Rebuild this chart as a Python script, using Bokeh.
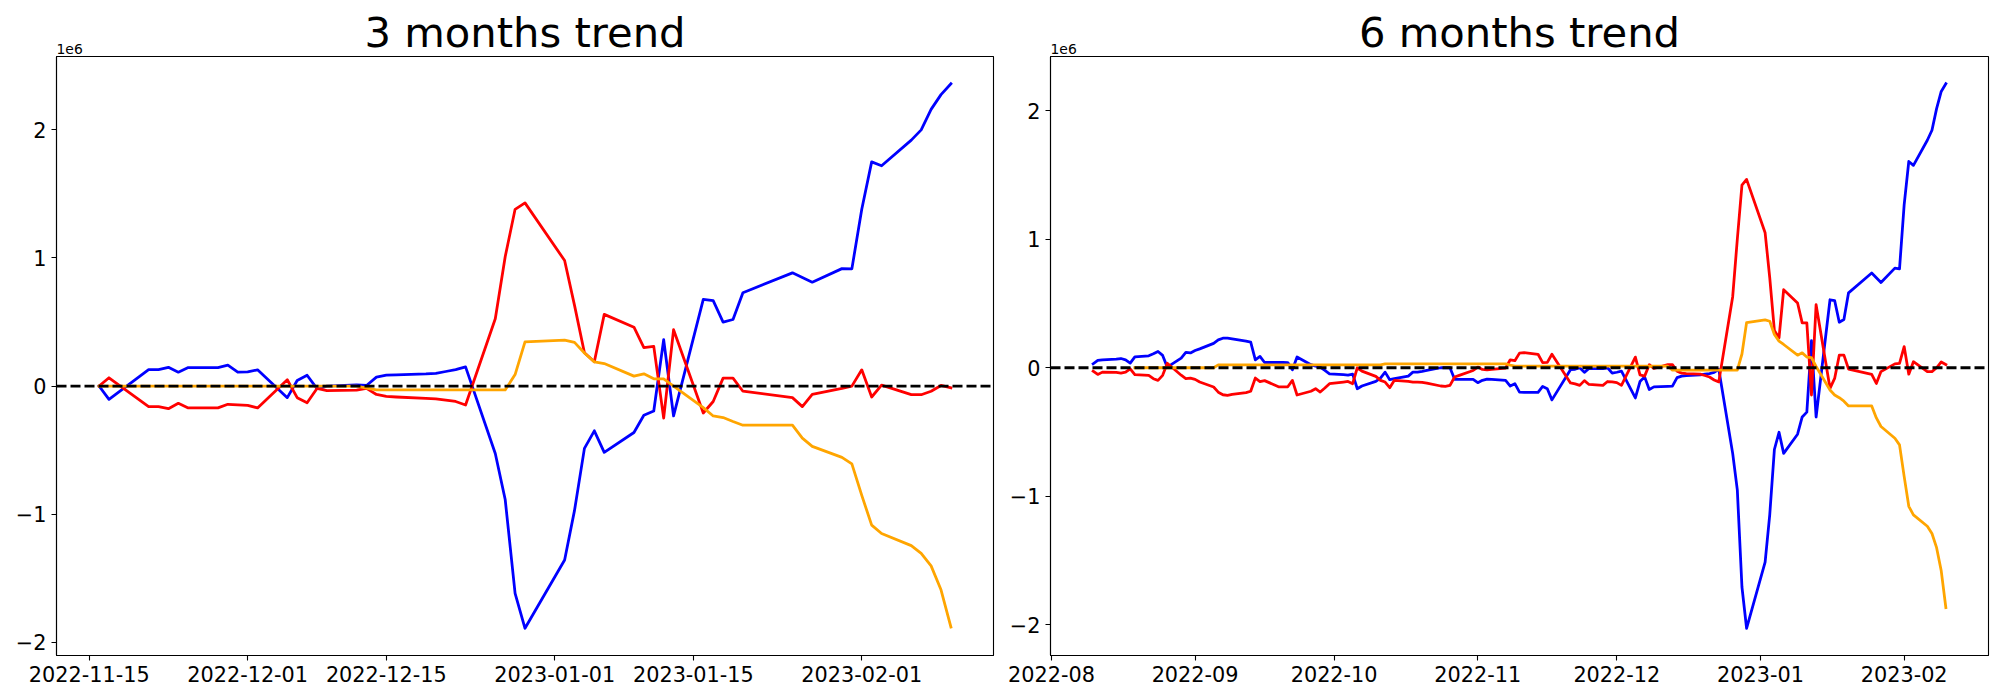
import numpy as np
import pandas as pd
from bokeh.plotting import figure
from bokeh.layouts import row
from bokeh.models import (ColumnDataSource, Range1d, FixedTicker,
                          CustomJSTickFormatter, Span, Title)
from bokeh.embed import file_html
from bokeh.resources import INLINE

# ---------------- 3 months trend (values in units of 1e6) ----------------
dates_3m = [
    "2022-11-16", "2022-11-17", "2022-11-21", "2022-11-22", "2022-11-23", "2022-11-24", "2022-11-25",
    "2022-11-28", "2022-11-29", "2022-11-30",
    "2022-12-01", "2022-12-02", "2022-12-05", "2022-12-06", "2022-12-07", "2022-12-08", "2022-12-09",
    "2022-12-12", "2022-12-13", "2022-12-14", "2022-12-15", "2022-12-16", "2022-12-19", "2022-12-20",
    "2022-12-21", "2022-12-22", "2022-12-23", "2022-12-26", "2022-12-27", "2022-12-28", "2022-12-29",
    "2023-01-02", "2023-01-03", "2023-01-04", "2023-01-05", "2023-01-06", "2023-01-09", "2023-01-10",
    "2023-01-11", "2023-01-12", "2023-01-13", "2023-01-16", "2023-01-17", "2023-01-18", "2023-01-19",
    "2023-01-20", "2023-01-25", "2023-01-26", "2023-01-27", "2023-01-30", "2023-01-31",
    "2023-02-01", "2023-02-02", "2023-02-03", "2023-02-06", "2023-02-07", "2023-02-08", "2023-02-09",
    "2023-02-10",
]
blue_3m = [
    0.000, -0.103, 0.129, 0.129, 0.147, 0.109, 0.145, 0.145, 0.163, 0.109,
    0.111, 0.127, -0.090, 0.044, 0.085, -0.020, 0.000, 0.010, 0.005, 0.070, 0.085, 0.087, 0.095, 0.100,
    0.114, 0.129, 0.150, -0.526, -0.885, -1.617, -1.890,
    -1.357, -0.970, -0.486, -0.349, -0.517, -0.362, -0.227, -0.194, 0.362, -0.233, 0.677, 0.667, 0.500,
    0.520, 0.729, 0.884, 0.848, 0.811, 0.917, 0.915,
    1.380, 1.750, 1.720, 1.920, 2.000, 2.160, 2.275, 2.360,
]
red_3m = [
    0.000, 0.065, -0.160, -0.160, -0.176, -0.134, -0.170, -0.170, -0.142, -0.146,
    -0.150, -0.170, 0.050, -0.090, -0.130, -0.018, -0.036, -0.031, -0.018, -0.065, -0.080, -0.085, -0.096,
    -0.100, -0.110, -0.120, -0.147, 0.526, 1.010, 1.380, 1.430,
    0.980, 0.630, 0.260, 0.190, 0.560, 0.460, 0.300, 0.310, -0.250, 0.440, -0.210, -0.120, 0.062,
    0.062, -0.040, -0.090, -0.160, -0.065, -0.018, 0.000,
    0.127, -0.085, 0.008, -0.067, -0.067, -0.040, 0.005, -0.013,
]
orange_3m = [
    0.000, 0.000, 0.000, 0.000, 0.000, 0.000, 0.000, 0.000, 0.000, 0.000,
    0.000, 0.000, 0.000, 0.000, 0.000, 0.000, 0.000, 0.000, -0.015, -0.030, -0.030, -0.030, -0.030,
    -0.030, -0.030, -0.030, -0.030, -0.030, -0.030, 0.090, 0.345,
    0.359, 0.341, 0.258, 0.189, 0.176, 0.078, 0.096, 0.057, 0.057, 0.000, -0.168, -0.233, -0.245,
    -0.276, -0.305, -0.305, -0.406, -0.470, -0.556, -0.607,
    -0.853, -1.085, -1.150, -1.245, -1.305, -1.403, -1.590, -1.880,
]
ticks_3m = ["2022-11-15", "2022-12-01", "2022-12-15", "2023-01-01", "2023-01-15", "2023-02-01"]

# ---------------- 6 months trend (values in units of 1e6) ----------------
dates_6m = [
    # Aug
    "2022-08-10", "2022-08-11", "2022-08-12", "2022-08-15", "2022-08-16", "2022-08-17", "2022-08-18",
    "2022-08-19", "2022-08-22", "2022-08-23", "2022-08-24", "2022-08-25", "2022-08-26", "2022-08-29",
    "2022-08-30", "2022-08-31",
    # Sep
    "2022-09-01", "2022-09-02", "2022-09-05", "2022-09-06", "2022-09-07", "2022-09-08", "2022-09-09",
    "2022-09-12", "2022-09-13", "2022-09-14", "2022-09-15", "2022-09-16", "2022-09-19", "2022-09-20",
    "2022-09-21", "2022-09-22", "2022-09-23", "2022-09-26", "2022-09-27", "2022-09-28", "2022-09-29",
    "2022-09-30",
    # Oct
    "2022-10-03", "2022-10-04", "2022-10-05", "2022-10-06", "2022-10-07", "2022-10-10", "2022-10-11",
    "2022-10-12", "2022-10-13", "2022-10-14", "2022-10-17", "2022-10-18", "2022-10-19", "2022-10-20",
    "2022-10-21", "2022-10-24", "2022-10-25", "2022-10-26", "2022-10-27", "2022-10-28", "2022-10-31",
    # Nov
    "2022-11-01", "2022-11-02", "2022-11-03", "2022-11-04", "2022-11-07", "2022-11-08", "2022-11-09",
    "2022-11-10", "2022-11-11", "2022-11-14", "2022-11-15", "2022-11-16", "2022-11-17", "2022-11-21",
    "2022-11-22", "2022-11-23", "2022-11-24", "2022-11-25", "2022-11-28", "2022-11-29", "2022-11-30",
    # Dec
    "2022-12-01", "2022-12-02", "2022-12-05", "2022-12-06", "2022-12-07", "2022-12-08", "2022-12-09",
    "2022-12-12", "2022-12-13", "2022-12-14", "2022-12-15", "2022-12-16", "2022-12-19", "2022-12-20",
    "2022-12-21", "2022-12-22", "2022-12-23", "2022-12-26", "2022-12-27", "2022-12-28", "2022-12-29",
    # Jan
    "2023-01-02", "2023-01-03", "2023-01-04", "2023-01-05", "2023-01-06", "2023-01-09", "2023-01-10",
    "2023-01-11", "2023-01-12", "2023-01-13", "2023-01-16", "2023-01-17", "2023-01-18", "2023-01-19",
    "2023-01-20", "2023-01-25", "2023-01-26", "2023-01-27", "2023-01-30", "2023-01-31",
    # Feb
    "2023-02-01", "2023-02-02", "2023-02-03", "2023-02-06", "2023-02-07", "2023-02-08", "2023-02-09",
    "2023-02-10",
]
blue_6m = [
    0.031, 0.057, 0.062, 0.067, 0.072, 0.062, 0.036, 0.085, 0.093, 0.109, 0.127, 0.096, 0.005, 0.075,
    0.120, 0.115,
    0.134, 0.147, 0.190, 0.217, 0.230, 0.230, 0.225, 0.207, 0.199, 0.062, 0.088, 0.041, 0.041, 0.041,
    0.040, -0.016, 0.084, 0.024, 0.013, 0.005, -0.020, -0.047,
    -0.054, -0.057, -0.050, -0.163, -0.142, -0.106, -0.080, -0.034, -0.093, -0.085, -0.065, -0.034,
    -0.034, -0.028, -0.021, 0.000, 0.000, 0.000, -0.090, -0.090, -0.090,
    -0.116, -0.098, -0.088, -0.090, -0.098, -0.142, -0.124, -0.189, -0.191, -0.191, -0.145, -0.163,
    -0.250, -0.015, -0.012, 0.000, -0.036, -0.006, -0.006, 0.000, -0.042,
    -0.035, -0.027, -0.235, -0.107, -0.071, -0.169, -0.149, -0.145, -0.143, -0.077, -0.065, -0.062,
    -0.056, -0.050, -0.045, -0.036, -0.012, -0.666, -0.950, -1.706, -2.027,
    -1.513, -1.142, -0.636, -0.502, -0.666, -0.517, -0.383, -0.345, 0.211, -0.383, 0.529, 0.523,
    0.354, 0.375, 0.583, 0.737, 0.700, 0.663, 0.775, 0.770,
    1.267, 1.605, 1.575, 1.770, 1.848, 2.016, 2.150, 2.210,
]
red_6m = [
    -0.026, -0.052, -0.034, -0.036, -0.041, -0.034, -0.008, -0.054, -0.059, -0.085, -0.098, -0.059,
    0.035, -0.058, -0.085, -0.080,
    -0.090, -0.111, -0.150, -0.190, -0.210, -0.214, -0.207, -0.194, -0.183, -0.080, -0.108, -0.100,
    -0.148, -0.148, -0.148, -0.098, -0.212, -0.183, -0.163, -0.189, -0.158, -0.124,
    -0.111, -0.106, -0.124, 0.000, -0.026, -0.067, -0.098, -0.111, -0.155, -0.098, -0.106, -0.111,
    -0.111, -0.113, -0.119, -0.142, -0.145, -0.137, -0.072, -0.059, -0.021,
    0.005, -0.013, -0.016, -0.013, -0.003, 0.062, 0.055, 0.114, 0.118, 0.105, 0.040, 0.042,
    0.105, -0.118, -0.125, -0.137, -0.100, -0.130, -0.137, -0.107, -0.110,
    -0.116, -0.137, 0.083, -0.056, -0.065, 0.024, -0.006, 0.024, 0.024, -0.027, -0.042, -0.045,
    -0.050, -0.060, -0.072, -0.095, -0.110, 0.553, 1.000, 1.421, 1.466,
    1.050, 0.700, 0.290, 0.233, 0.607, 0.504, 0.349, 0.349, -0.212, 0.491, -0.160, -0.083,
    0.098, 0.098, -0.010, -0.052, -0.122, -0.030, 0.030, 0.034,
    0.165, -0.050, 0.047, -0.030, -0.030, 0.000, 0.045, 0.025,
]
nan = float("nan")
orange_6m = [
    nan, nan, nan, nan, nan, nan, nan, 0.000, 0.000, 0.000, 0.000, 0.000, 0.000, 0.000,
    0.000, 0.000,
    0.000, 0.000, 0.000, 0.023, 0.023, 0.023, 0.023, 0.023, 0.023, 0.023, 0.023, 0.023, 0.023, 0.023,
    0.023, 0.023, 0.023, 0.023, 0.023, 0.023, 0.023, 0.023,
    0.023, 0.023, 0.023, 0.023, 0.023, 0.023, 0.023, 0.031, 0.031, 0.031, 0.031, 0.031,
    0.031, 0.031, 0.031, 0.031, 0.031, 0.031, 0.031, 0.031, 0.031,
    0.031, 0.031, 0.031, 0.031, 0.031, 0.020, 0.012, 0.012, 0.012, 0.012, 0.012, 0.012,
    0.012, 0.012, 0.012, 0.012, 0.012, 0.012, 0.012, 0.012, 0.012,
    0.012, 0.012, 0.012, 0.012, 0.012, 0.012, 0.012, 0.012, -0.018, -0.018, -0.018, -0.018,
    -0.018, -0.018, -0.018, -0.018, -0.018, -0.018, -0.018, 0.107, 0.351,
    0.372, 0.362, 0.259, 0.207, 0.181, 0.098, 0.116, 0.083, 0.078, 0.010, -0.173, -0.212,
    -0.233, -0.260, -0.297, -0.297, -0.390, -0.457, -0.548, -0.600,
    -0.845, -1.078, -1.145, -1.233, -1.290, -1.400, -1.580, -1.866,
]
ticks_6m = ["2022-08-01", "2022-09-01", "2022-10-01", "2022-11-01", "2022-12-01", "2023-01-01",
            "2023-02-01"]

y_ticks = [-2, -1, 0, 1, 2]

FONT = "DejaVu Sans"


def to_ms(strings):
    return [pd.Timestamp(s).value / 1e6 for s in strings]


def make_panel(title, dates, blue, red, orange, ticks, date_len,
               border_left, frame_w, border_right):
    x = pd.to_datetime(dates)
    src = ColumnDataSource(dict(x=x, blue=np.array(blue, dtype=float),
                                red=np.array(red, dtype=float),
                                orange=np.array(orange, dtype=float)))
    xs = to_ms(dates)
    xpad = 0.05 * (max(xs) - min(xs))
    allv = np.concatenate([np.array(blue, float), np.array(red, float), np.array(orange, float)])
    ymin, ymax = np.nanmin(allv), np.nanmax(allv)
    ypad = 0.05 * (ymax - ymin)
    x0, x1 = min(xs) - xpad, max(xs) + xpad
    y0, y1 = ymin - ypad, ymax + ypad

    p = figure(x_axis_type="datetime", output_backend="svg", toolbar_location=None,
               frame_width=frame_w, frame_height=599,
               min_border_left=border_left, min_border_right=border_right,
               min_border_top=56, min_border_bottom=34,
               x_range=Range1d(x0, x1), y_range=Range1d(y0, y1),
               background_fill_color="white", border_fill_color="white")
    p.title.text = ""
    p.title.visible = False

    # offset text "1e6" (closest to the frame, left aligned)
    p.add_layout(Title(text="1e6", align="left", offset=0, standoff=6,
                       text_font=FONT, text_font_size="13.9px", text_font_style="normal",
                       text_color="black"), "above")
    # main title, overlapping the offset-text band like matplotlib does
    p.add_layout(Title(text=title, align="center", offset=0, standoff=-36,
                       text_font=FONT, text_font_size="41.7px", text_font_style="normal",
                       text_color="black"), "above")

    for col, color in (("blue", "blue"), ("red", "red"), ("orange", "orange")):
        p.line("x", col, source=src, line_color=color, line_width=2.78,
               line_join="round", line_cap="square")

    p.add_layout(Span(location=0, dimension="width", line_color="black",
                      line_width=2.78, line_dash="10 4"))

    p.grid.visible = False
    p.outline_line_color = "black"
    p.outline_line_width = 1.1
    p.outline_line_alpha = 1.0

    for ax in (p.xaxis[0], p.yaxis[0]):
        ax.axis_line_color = "black"
        ax.axis_line_width = 1.1
        ax.major_tick_line_color = "black"
        ax.major_tick_line_width = 1.1
        ax.major_tick_out = 5
        ax.major_tick_in = 0
        ax.minor_tick_out = 0
        ax.minor_tick_in = 0
        ax.major_label_text_font = FONT
        ax.major_label_text_font_size = "20.8px"
        ax.major_label_text_color = "black"
        ax.major_label_standoff = 5

    p.xaxis[0].ticker = FixedTicker(ticks=to_ms(ticks))
    p.xaxis[0].formatter = CustomJSTickFormatter(
        code="return new Date(tick).toISOString().slice(0, %d);" % date_len)
    p.yaxis[0].ticker = FixedTicker(ticks=y_ticks)
    p.yaxis[0].formatter = CustomJSTickFormatter(
        code="return tick < 0 ? '\\u2212' + Math.abs(tick) : String(tick);")
    return p


p1 = make_panel("3 months trend", dates_3m, blue_3m, red_3m, orange_3m, ticks_3m, 10,
                56, 937, 7)
p2 = make_panel("6 months trend", dates_6m, blue_6m, red_6m, orange_6m, ticks_6m, 7,
                50, 938, 2)

layout = row(p1, p2)
open("out.html", "w").write(file_html(layout, INLINE))
